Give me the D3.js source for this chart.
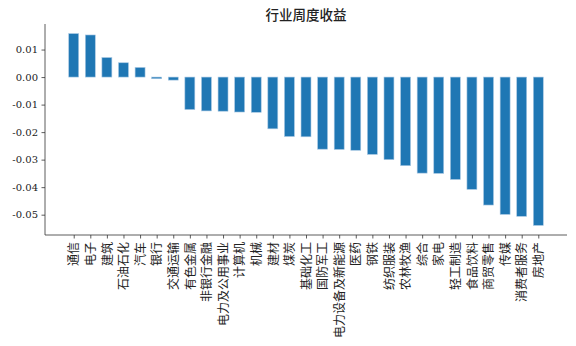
<!DOCTYPE html>
<html><head><meta charset="utf-8">
<script src="https://cdn.jsdelivr.net/npm/d3@7"></script>
<style>body{margin:0;background:#fff}svg{display:block}</style>
</head><body>
<svg id="c" width="576" height="346"></svg>
<script>
const categories = ["通信","电子","建筑","石油石化","汽车","银行","交通运输","有色金属","非银行金融","电力及公用事业","计算机","机械","建材","煤炭","基础化工","国防军工","电力设备及新能源","医药","钢铁","纺织服装","农林牧渔","综合","家电","轻工制造","食品饮料","商贸零售","传媒","消费者服务","房地产"];
const values = [0.0158,0.0153,0.0071,0.0052,0.0035,-0.0006,-0.0011,-0.0118,-0.0123,-0.0124,-0.0127,-0.0128,-0.0188,-0.0216,-0.0217,-0.0262,-0.0263,-0.0266,-0.0281,-0.0300,-0.0322,-0.0349,-0.0350,-0.0372,-0.0408,-0.0465,-0.0499,-0.0506,-0.0539];
const yTicks = [0.01,0.00,-0.01,-0.02,-0.03,-0.04,-0.05];
const title = "行业周度收益";

const svg = d3.select("#c");
const L = 45, R = 567, T = 24, B = 235;
const n = categories.length, w = 0.6;
const span = (n - 1) + w, m = 0.05 * span;
const x = d3.scaleLinear().domain([-w/2 - m, (n - 1) + w/2 + m]).range([L, R]);
const vmax = d3.max(values), vmin = d3.min(values), vm = 0.05 * (vmax - vmin);
const y = d3.scaleLinear().domain([vmin - vm, vmax + vm]).range([B, T]);
const bw = x(w) - x(0);

svg.append("g").selectAll("rect").data(values).join("rect")
  .attr("x", (d, i) => x(i) - bw/2)
  .attr("width", bw)
  .attr("y", d => y(Math.max(0, d)))
  .attr("height", d => Math.abs(y(d) - y(0)))
  .attr("fill", "#1f77b4")
  .attr("stroke", "#a9c8e3").attr("stroke-width", 0.6);

const yAxis = d3.axisLeft(y).tickValues(yTicks).tickSize(3.5).tickPadding(3.5)
  .tickFormat(d => d3.format(".2f")(d).replace("−", "-"));
const gy = svg.append("g").attr("transform", `translate(${L},0)`).call(yAxis);
gy.select(".domain").attr("d", `M0,${T}V${B}`).attr("stroke", "#333").attr("stroke-width", 0.8);
gy.selectAll(".tick line").attr("stroke", "#333").attr("stroke-width", 0.8);
gy.selectAll("text").attr("font-family", "'DejaVu Serif', serif").attr("font-size", 10).attr("fill", "#222");

const xAxis = d3.axisBottom(x).tickValues(d3.range(n)).tickSize(3.5).tickPadding(3).tickFormat(i => categories[i]);
const gx = svg.append("g").attr("transform", `translate(0,${B})`).call(xAxis);
gx.select(".domain").attr("d", `M${L},0H${R}`).attr("stroke", "#333").attr("stroke-width", 0.8);
gx.selectAll(".tick line").attr("stroke", "#333").attr("stroke-width", 0.8);
gx.selectAll("text")
  .attr("font-family", "'Noto Sans CJK SC', sans-serif").attr("font-size", 12).attr("fill", "#222")
  .attr("transform", "rotate(-90)")
  .attr("text-anchor", "end").attr("dy", "0.35em").attr("x", -7).attr("y", 0);

svg.append("text").attr("x", (L + R) / 2).attr("y", 20).attr("text-anchor", "middle")
  .attr("font-family", "'Noto Sans CJK SC', sans-serif").attr("font-size", 13.5).attr("font-weight", "500")
  .attr("fill", "#222").text(title);
</script>
</body></html>
